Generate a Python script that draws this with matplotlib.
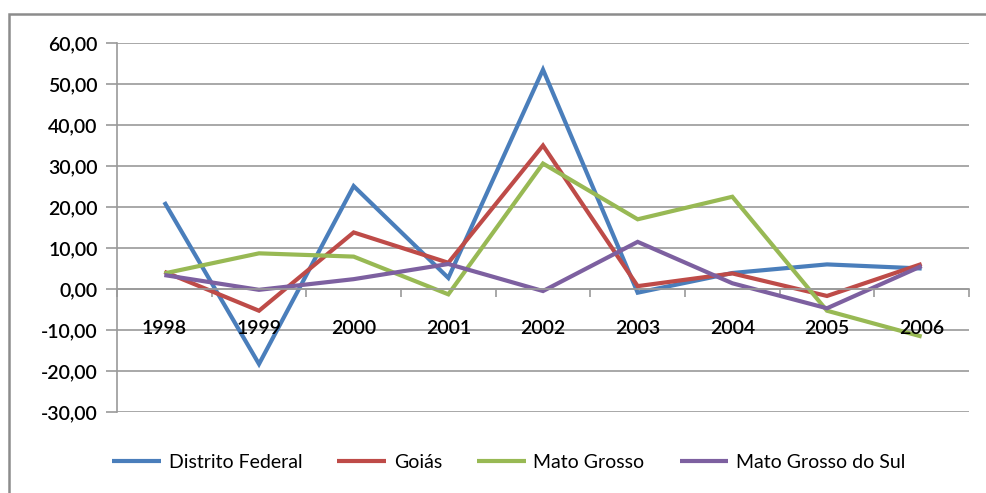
import matplotlib.pyplot as plt
from matplotlib.patches import Rectangle
from matplotlib.ticker import FixedLocator, FuncFormatter

years = ["1998", "1999", "2000", "2001", "2002", "2003", "2004", "2005", "2006"]
distrito_federal = [21.2, -18.3, 25.1, 2.7, 53.5, -0.9, 3.9, 6.0, 5.0]
goias = [4.2, -5.3, 13.8, 6.4, 35.0, 0.7, 3.8, -1.7, 6.1]
mato_grosso = [3.8, 8.7, 7.9, -1.3, 30.6, 17.0, 22.5, -5.3, -11.6]
mato_grosso_sul = [3.4, -0.2, 2.4, 6.1, -0.5, 11.5, 1.4, -4.7, 5.6]

series = [
    ("Distrito Federal", distrito_federal, "#4A7EBB"),
    ("Goiás", goias, "#BE4B48"),
    ("Mato Grosso", mato_grosso, "#98B954"),
    ("Mato Grosso do Sul", mato_grosso_sul, "#7D60A0"),
]

plt.rcParams["font.family"] = ["Lato", "DejaVu Sans"]
grid_grey = "#9a9a9a"
label_size = 14

fig = plt.figure(figsize=(9.86, 4.93), dpi=100)
fig.patches.append(Rectangle((9 / 986, -0.1), 1.2, 1 - 14 / 493 + 0.1,
                             transform=fig.transFigure, fill=False,
                             edgecolor="#8c8c8c", linewidth=1.8))

ax = fig.add_axes([117 / 986, 1 - 412 / 493, 852 / 986, 369 / 493])
x = list(range(len(years)))
for name, vals, color in series:
    ax.plot(x, vals, color=color, linewidth=3.0, label=name,
            solid_joinstyle="miter", solid_capstyle="butt")

ax.set_xlim(-0.5, len(years) - 0.5)
ax.set_ylim(-30, 60)
ax.yaxis.set_major_locator(FixedLocator(range(-30, 61, 10)))
ax.yaxis.set_major_formatter(FuncFormatter(lambda v, _: f"{v:.2f}".replace(".", ",")))
ax.yaxis.grid(True, color=grid_grey, linewidth=1.2)
ax.set_axisbelow(True)

for side in ["top", "right"]:
    ax.spines[side].set_visible(False)
ax.spines["left"].set_color(grid_grey)
ax.spines["left"].set_linewidth(1.2)
ax.spines["bottom"].set_position(("data", 0))
ax.spines["bottom"].set_color(grid_grey)
ax.spines["bottom"].set_linewidth(1.2)

ax.set_xticks([i - 0.5 for i in range(len(years) + 1)])
ax.set_xticklabels([])
ax.tick_params(axis="x", direction="out", length=6, width=1.2, color=grid_grey)
ax.tick_params(axis="y", direction="out", length=8, width=1.2, color=grid_grey,
               labelsize=label_size, pad=6)
for lbl in ax.get_yticklabels():
    lbl.set_fontweight("semibold")

for i, year in enumerate(years):
    ax.text(i, -9.6, year, ha="center", va="center", fontsize=label_size,
            fontweight="semibold")

ax.legend(loc="center", bbox_to_anchor=(0.46, -0.137), ncol=4, frameon=False,
          fontsize=label_size, handlelength=2.5, columnspacing=1.8,
          handletextpad=0.4)

fig.savefig("out.png", dpi=100)
